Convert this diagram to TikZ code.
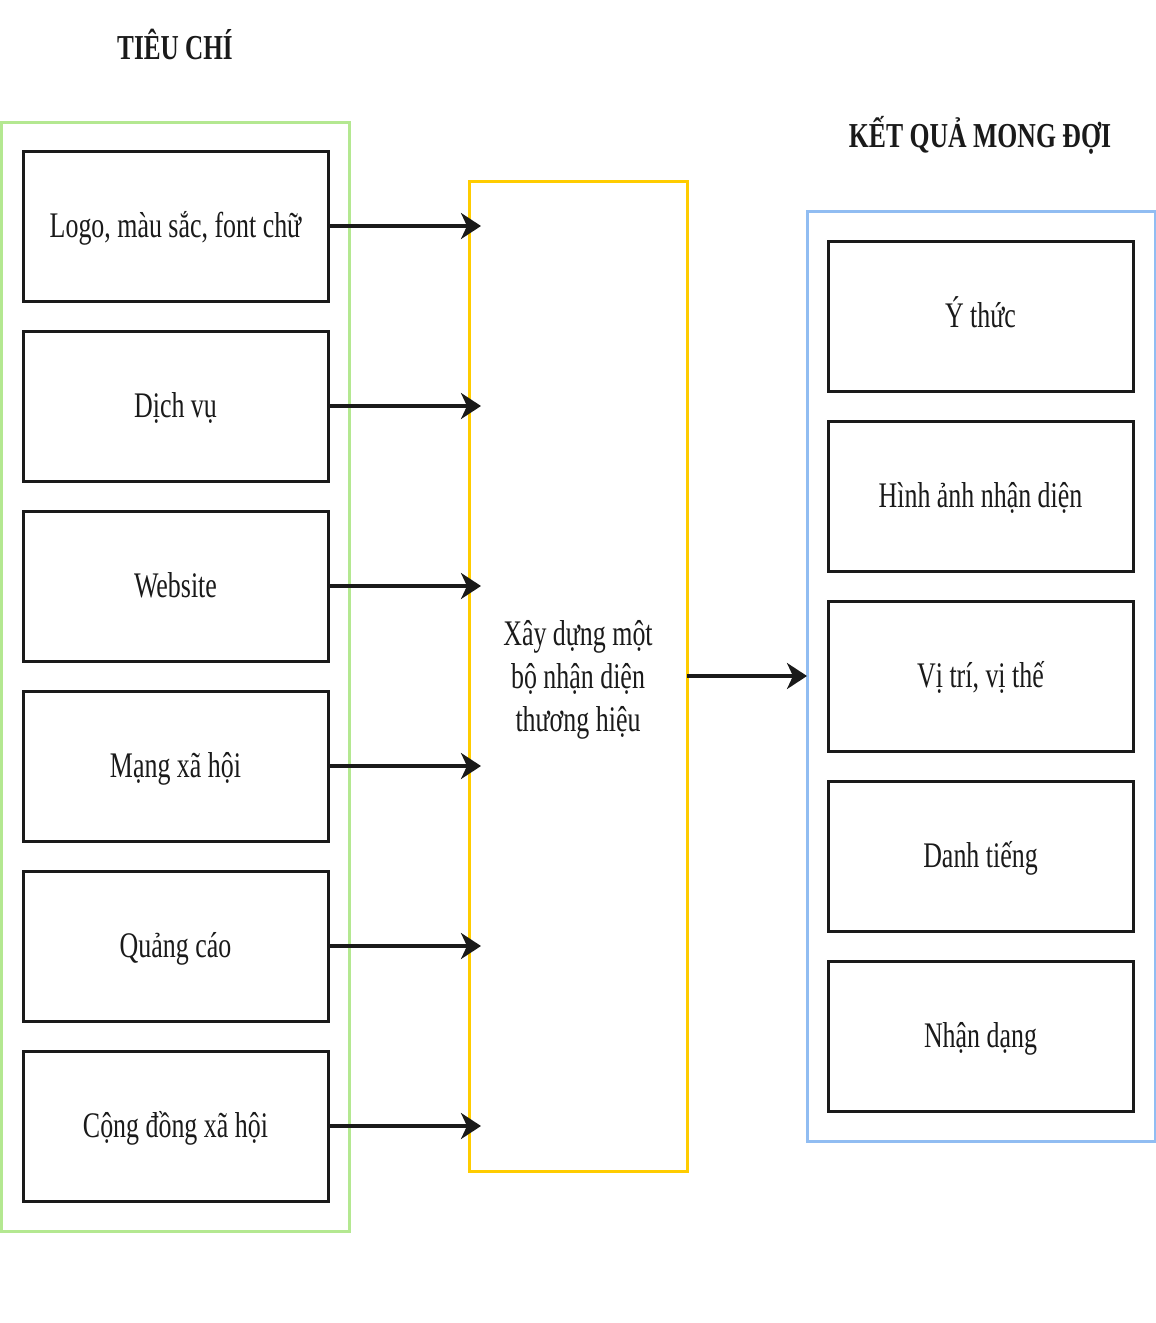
\documentclass[tikz,border=0pt]{standalone}
\usepackage{fontspec}
\setmainfont{Liberation Serif}[FakeStretch=0.72]
\usetikzlibrary{arrows.meta}
\definecolor{ink}{HTML}{1A1A1A}
\definecolor{grn}{HTML}{B4E891}
\definecolor{ylw}{HTML}{FFCC00}
\definecolor{blu}{HTML}{91BDF2}
\tikzset{
  item/.style={draw=ink, line width=3pt, minimum width=305pt, minimum height=150pt,
    inner sep=0pt, outer sep=0pt, font=\fontsize{36}{43}\selectfont, text=ink,
    text height=30pt, text depth=8pt},
  group/.style={line width=3pt, inner sep=0pt, outer sep=0pt},
  title/.style={font=\fontsize{35}{42}\selectfont\bfseries, text=ink, inner sep=0pt},
  conn/.style={draw=ink, line width=3.4pt, -{Stealth[length=20pt,width=26pt,inset=6pt]}}
}
\begin{document}
\begin{tikzpicture}[x=1pt,y=-1pt]
\useasboundingbox (0,0) rectangle (1156,1323);
% titles
\node[title] (t1) at (175,44) {TIÊU CHÍ};
\node[title, xscale=1.02] (t2) at (980,135) {KẾT QUẢ MONG ĐỢI};
% groups
\node[group, draw=grn, minimum width=348pt, minimum height=1109pt] (G) at (175,676.5) {};
\node[group, draw=ylw, minimum width=218pt, minimum height=990pt] (Y) at (578,676) {};
\node[inner sep=0pt, align=center, font=\fontsize{36}{43}\selectfont, text=ink] (Yt) at (578,680)
  {Xây dựng một\\bộ nhận diện\\thương hiệu};
\node[group, draw=blu, minimum width=348pt, minimum height=930pt] (B) at (981,676) {};
% left items
\node[item] (L1) at (175.5,226) {Logo, màu sắc, font chữ};
\node[item] (L2) at (175.5,406) {Dịch vụ};
\node[item] (L3) at (175.5,586) {Website};
\node[item] (L4) at (175.5,766) {Mạng xã hội};
\node[item] (L5) at (175.5,946) {Quảng cáo};
\node[item] (L6) at (175.5,1126) {Cộng đồng xã hội};
% right items
\node[item] (R1) at (980.5,316) {Ý thức};
\node[item] (R2) at (980.5,496) {Hình ảnh nhận diện};
\node[item] (R3) at (980.5,676) {Vị trí, vị thế};
\node[item] (R4) at (980.5,856) {Danh tiếng};
\node[item] (R5) at (980.5,1036) {Nhận dạng};
% connectors
\foreach \n in {L1,L2,L3,L4,L5,L6}{
  \draw[conn, shorten >=-12pt] (\n.east) -- (\n.east -| Y.west);
}
\draw[conn] (Y.east) -- (B.west);
\end{tikzpicture}
\end{document}
